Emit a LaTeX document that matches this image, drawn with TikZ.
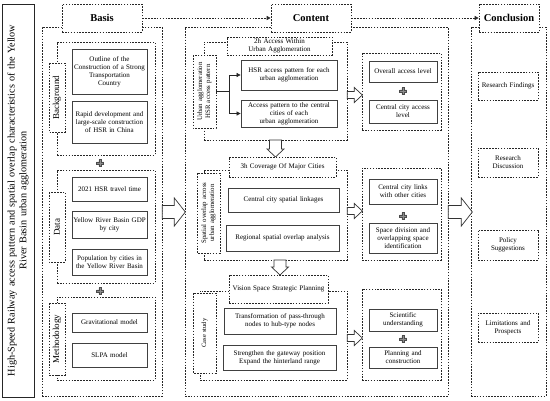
\documentclass[tikz,border=0pt]{standalone}
\usepackage{fontspec}
\setmainfont{Liberation Serif}
\usetikzlibrary{arrows.meta}
\newcommand{\fsz}[1]{\fontsize{#1pt}{\dimexpr #1pt*115/100\relax}\selectfont}
\newcommand{\bx}[7]{%
 \pgfmathsetmacro\bxw{#5-#3}\pgfmathsetmacro\bxh{#6-#4}\pgfmathsetmacro\bxt{max(#5-#3-1,1)}%
 \node[#2, minimum width=\bxw pt, minimum height=\bxh pt, text width=\bxt pt] (#1) at ({(#3+#5)/2},{(#4+#6)/2}) {#7};}
\newcommand{\lb}[7]{%
 \pgfmathsetmacro\bxw{#5-#3}\pgfmathsetmacro\bxh{#6-#4}\pgfmathsetmacro\bxt{max(#6-#4-1,1)}%
 \node[#2, rotate=90, minimum width=\bxh pt, minimum height=\bxw pt, text width=\bxt pt] (#1) at ({(#3+#5)/2},{(#4+#6)/2}) {#7};}
\tikzset{
 dbox/.style={draw=black!85, dash pattern=on 1.6pt off 1.3pt, line width=0.65pt, fill=white, inner sep=0pt, align=center},
 gbox/.style={draw=black!85, dash pattern=on 1.6pt off 1.3pt, line width=0.65pt, inner sep=0pt},
 sbox/.style={draw=black!75, line width=0.75pt, fill=white, inner sep=0pt, align=center, font=\fsz{7}},
 blk/.style={draw=black!80, line width=0.7pt, fill=white},
 dasharrow/.style={draw=black!85, dash pattern=on 1.6pt off 1.3pt, line width=0.65pt, -{Triangle[length=4pt,width=4pt]}},
 conn/.style={draw=black!85, line width=0.7pt},
 pics/rarr/.style n args={4}{code={\draw[blk] (0,-#2)--(#1-#4,-#2)--(#1-#4,-#3)--(#1,0)--(#1-#4,#3)--(#1-#4,#2)--(0,#2)--cycle;}},
 pics/darr/.style n args={4}{code={\draw[blk] (-#2,0)--(-#2,#1-#4)--(-#3,#1-#4)--(0,#1)--(#3,#1-#4)--(#2,#1-#4)--(#2,0)--cycle;}},
 pics/plussign/.style={code={\draw[fill=black!45, draw=black!70, line width=0.3pt] (-1.2,-3.5)--(1.2,-3.5)--(1.2,-1.2)--(3.5,-1.2)--(3.5,1.2)--(1.2,1.2)--(1.2,3.5)--(-1.2,3.5)--(-1.2,1.2)--(-3.5,1.2)--(-3.5,-1.2)--(-1.2,-1.2)--cycle;}}
}
\begin{document}
\begin{tikzpicture}[x=1pt,y=-1pt]
\useasboundingbox (0,0) rectangle (550,400);
% title
\lb{title}{draw=black!85, line width=0.8pt, inner sep=0pt, align=center, font=\fsz{10.2}}{2}{4}{34}{397}{High-Speed Railway access pattern and spatial overlap characteristics of the Yellow\\ River Basin urban agglomeration}
% outer columns
\bx{basisO}{gbox}{42}{27}{162}{396}{}
\bx{contentO}{gbox}{185}{27}{448}{396}{}
\bx{conclO}{gbox}{471}{27}{546}{396}{}
% headers
\bx{basisH}{dbox, font=\bfseries\fsz{10.5}}{62}{4}{142}{32}{Basis}
\bx{contentH}{dbox, font=\bfseries\fsz{10.5}}{271}{4}{351}{32}{Content}
\bx{conclH}{dbox, font=\bfseries\fsz{10.5}}{479}{4}{539}{32}{Conclusion}
\draw[dasharrow] (basisH.east) -- (contentH.west);
\draw[dasharrow] (contentH.east) -- (conclH.west);
% Basis column
\bx{bgG}{gbox}{57}{42}{155}{155}{}
\lb{bgL}{dbox, font=\fsz{9}}{49}{63}{65}{132}{Background}
\bx{b1}{sbox}{72}{49}{147}{94}{Outline of the\\ Construction of a Strong\\ Transportation\\ Country}
\bx{b2}{sbox}{72}{101}{147}{143}{Rapid development and\\ large-scale construction\\ of HSR in China}
\pic at (100,163) {plussign};
\bx{dataG}{gbox}{57}{170}{155}{283}{}
\lb{dataL}{dbox, font=\fsz{9}}{49}{192}{65}{262}{Data}
\bx{d1}{sbox}{72}{177}{147}{201}{2021 HSR travel time}
\bx{d2}{sbox}{72}{211}{147}{238}{Yellow River Basin GDP\\ by city}
\bx{d3}{sbox}{72}{249}{147}{275}{Population by cities in\\ the Yellow River Basin}
\pic at (100,291) {plussign};
\bx{methG}{gbox}{57}{297}{155}{380}{}
\lb{methL}{dbox, font=\fsz{9}}{49}{303}{65}{375}{Methodology}
\bx{m1}{sbox}{72}{313}{147}{332}{Gravitational model}
\bx{m2}{sbox}{72}{343}{147}{367}{SLPA model}
% Content section 1
\bx{s1G}{gbox}{204}{42}{347}{140}{}
\bx{s1H}{dbox, font=\fsz{7}}{227}{37}{332}{55}{2h Access Within\\ Urban Agglomeration}
\lb{s1L}{dbox, font=\fsz{6.8}}{193}{55}{216}{128}{Urban agglomeration\\ HSR access pattern}
\bx{s1a}{sbox}{241}{60}{337}{90}{HSR access pattern for each\\ urban agglomeration}
\bx{s1b}{sbox}{241}{100}{337}{127}{Access pattern to the central\\ cities of each\\ urban agglomeration}
\coordinate (br) at (229,91.5);
\draw[conn] (s1L.south) -- (br);
\draw[conn, -{Triangle[length=4pt,width=4pt]}] (br) |- (s1a.west);
\draw[conn, -{Triangle[length=4pt,width=4pt]}] (br) |- (s1b.west);
\bx{r1G}{dbox}{362}{53}{441}{130}{}
\bx{r1a}{sbox}{369}{61}{437}{82}{Overall access level}
\bx{r1b}{sbox}{369}{100}{437}{123}{Central city access\\ level}
\pic at (403,91) {plussign};
\pic at (s1G.east |- 0,95) {rarr={15}{3.5}{7.5}{8}};
\pic at (s1G.south |- 0,140) {darr={17}{6}{8.5}{8}};
% section 2
\bx{s2G}{gbox}{204}{170}{347}{260}{}
\bx{s2H}{dbox, font=\fsz{7}}{229}{157}{336}{177}{3h Coverage Of Major Cities}
\lb{s2L}{dbox, font=\fsz{6.8}}{197}{173}{220}{253}{Spatial overlap across\\ urban agglomeration}
\bx{s2a}{sbox}{228}{188}{339}{212}{Central city spatial linkages}
\bx{s2b}{sbox}{226}{225}{339}{251}{Regional spatial overlap analysis}
\bx{r2G}{dbox}{362}{168}{441}{260}{}
\bx{r2a}{sbox}{369}{179}{437}{204}{Central city links\\ with other cities}
\bx{r2b}{sbox}{369}{223}{437}{253}{Space division and\\ overlapping space\\ identification}
\pic at (403,216) {plussign};
\pic at (s2G.east |- 0,211) {rarr={15}{3.5}{7.5}{8}};
\pic at (280,260) {darr={15}{6}{8.5}{8}};
% section 3
\bx{s3G}{gbox}{200}{291}{347}{380}{}
\bx{s3H}{dbox, font=\fsz{7}}{229}{275}{328}{303}{Vision Space Strategic Planning}
\lb{s3L}{dbox, font=\fsz{6.5}}{193}{293}{216}{373}{Case study}
\bx{s3a}{sbox}{224}{308}{336}{334}{Transformation of pass-through\\ nodes to hub-type nodes}
\bx{s3b}{sbox}{223}{345}{336}{370}{Strengthen the gateway position\\ Expand the hinterland range}
\bx{r3G}{dbox}{362}{289}{441}{380}{}
\bx{r3a}{sbox}{369}{309}{437}{331}{Scientific\\ understanding}
\bx{r3b}{sbox}{369}{347}{437}{368}{Planning and\\ construction}
\pic at (403,339) {plussign};
\pic at (s3G.east |- 0,338) {rarr={15}{3.5}{7.5}{8}};
% big arrows
\pic at (basisO.east |- 0,212) {rarr={23}{6.5}{14}{11}};
\pic at (contentO.east |- 0,212) {rarr={24}{6.5}{14}{11}};
% conclusion items
\bx{c1}{dbox, font=\fsz{7}}{478}{72}{538}{100}{Research Findings}
\bx{c2}{dbox, font=\fsz{7}}{478}{148}{538}{177}{Research\\ Discussion}
\bx{c3}{dbox, font=\fsz{7}}{478}{230}{538}{260}{Policy\\ Suggestions}
\bx{c4}{dbox, font=\fsz{7}}{478}{313}{538}{342}{Limitations and\\ Prospects}
\end{tikzpicture}
\end{document}
